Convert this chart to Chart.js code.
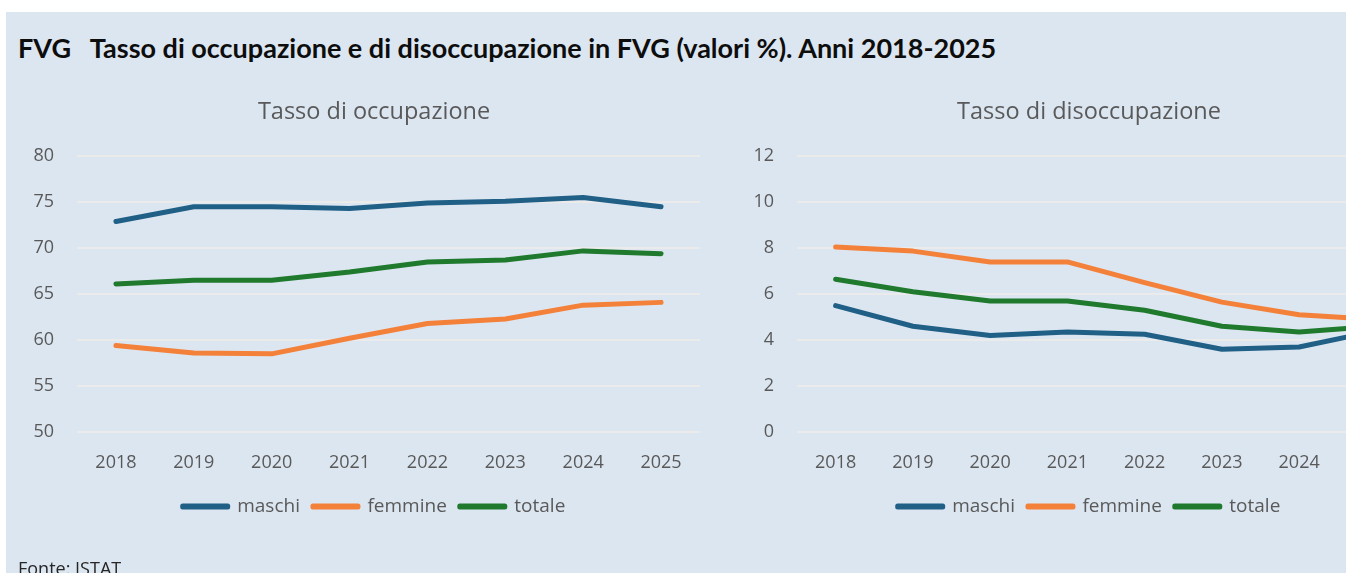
<!DOCTYPE html>
<html>
<head>
<meta charset="utf-8">
<script src="https://cdn.jsdelivr.net/npm/chart.js@4.4.1/dist/chart.umd.min.js"></script>
<style>
  html, body { margin: 0; padding: 0; background: #ffffff; }
  body { width: 1351px; height: 573px; position: relative; overflow: hidden; }
  #panel { position: absolute; left: 6px; top: 12px; width: 1340px; height: 561px; background: #dce6f1; }
  #mainTitle { position: absolute; left: 18px; top: 31px; font-family: 'Lato', sans-serif; font-weight: 700;
    font-size: 27px; color: #0d0d0d; white-space: nowrap; }
  #source { position: absolute; left: 18px; top: 556px; font-family: 'Open Sans', sans-serif; font-size: 18px; color: #262626; }
  #leftBox { position: absolute; left: 0; top: 80px; width: 748px; height: 480px; }
  #rightClip { position: absolute; left: 715px; top: 80px; width: 631px; height: 480px; overflow: hidden; }
  #rightBox { position: absolute; left: 0; top: 0; width: 748px; height: 480px; }
</style>
</head>
<body>
<div id="panel"></div>
<div id="mainTitle">FVG&nbsp;&nbsp;&nbsp;Tasso di occupazione e di disoccupazione in FVG (valori %). Anni 2018-2025</div>
<div id="leftBox"><canvas id="occ"></canvas></div>
<div id="rightClip"><div id="rightBox"><canvas id="dis"></canvas></div></div>
<div id="source">Fonte: ISTAT</div>
<script>
// ---- Data ----
const years = ['2018', '2019', '2020', '2021', '2022', '2023', '2024', '2025'];
const seriesNames = ['maschi', 'femmine', 'totale'];

const occMaschi  = [72.9, 74.5, 74.5, 74.3, 74.9, 75.1, 75.5, 74.5];
const occFemmine = [59.4, 58.6, 58.5, 60.2, 61.8, 62.3, 63.8, 64.1];
const occTotale  = [66.1, 66.5, 66.5, 67.4, 68.5, 68.7, 69.7, 69.4];

const disMaschi  = [5.5, 4.6, 4.2, 4.35, 4.25, 3.6, 3.7, 4.4];
const disFemmine = [8.05, 7.87, 7.4, 7.4, 6.5, 5.65, 5.1, 4.9];
const disTotale  = [6.65, 6.1, 5.7, 5.7, 5.3, 4.6, 4.35, 4.6];

const occTicks = { min: 50, max: 80, step: 5 };
const disTicks = { min: 0, max: 12, step: 2 };

const occTitle = 'Tasso di occupazione';
const disTitle = 'Tasso di disoccupazione';

// ---- Styles ----
const colors = ['#205f86', '#f4813a', '#1f7a2e'];
Chart.defaults.font.family = "'Open Sans', sans-serif";
Chart.defaults.color = '#595959';

function makeDatasets(values) {
  return values.map((v, i) => ({
    label: seriesNames[i],
    data: v,
    borderColor: colors[i],
    backgroundColor: colors[i],
    borderWidth: 5,
    borderCapStyle: 'round',
    borderJoinStyle: 'round',
    pointRadius: 0,
    tension: 0
  }));
}

function makeChart(id, values, ticks, title, yWidth) {
  return new Chart(document.getElementById(id), {
    type: 'line',
    data: { labels: years, datasets: makeDatasets(values) },
    options: {
      responsive: true,
      maintainAspectRatio: false,
      animation: false,
      layout: { padding: { left: 0, right: 0, top: 0, bottom: 34 } },
      plugins: {
        title: {
          display: true, text: title, color: '#595959',
          font: { size: 23.5, weight: 'normal' },
          padding: { top: 18, bottom: 30 }
        },
        legend: {
          display: true, position: 'bottom',
          labels: {
            boxWidth: 45, boxHeight: 1, padding: 13,
            font: { size: 19 }, color: '#595959'
          }
        },
        tooltip: { enabled: false }
      },
      scales: {
        x: {
          offset: true,
          grid: { display: false, drawTicks: false },
          border: { display: false },
          ticks: { padding: 20, font: { size: 18 }, color: '#595959', maxRotation: 0, autoSkip: false },
          afterFit: (s) => { s.height = 52; }
        },
        y: {
          min: ticks.min, max: ticks.max,
          grid: { color: '#ebebeb', lineWidth: 2, drawTicks: false },
          border: { display: false },
          ticks: { stepSize: ticks.step, padding: 23, font: { size: 18 }, color: '#595959' },
          afterFit: (s) => { s.width = yWidth; }
        },
        yRightSpace: {
          position: 'right',
          min: ticks.min, max: ticks.max,
          grid: { display: false, drawTicks: false },
          border: { display: false },
          ticks: { display: false },
          afterFit: (s) => { s.width = 48; }
        }
      }
    }
  });
}

makeChart('occ', [occMaschi, occFemmine, occTotale], occTicks, occTitle, 77);
makeChart('dis', [disMaschi, disFemmine, disTotale], disTicks, disTitle, 82);
</script>
</body>
</html>
